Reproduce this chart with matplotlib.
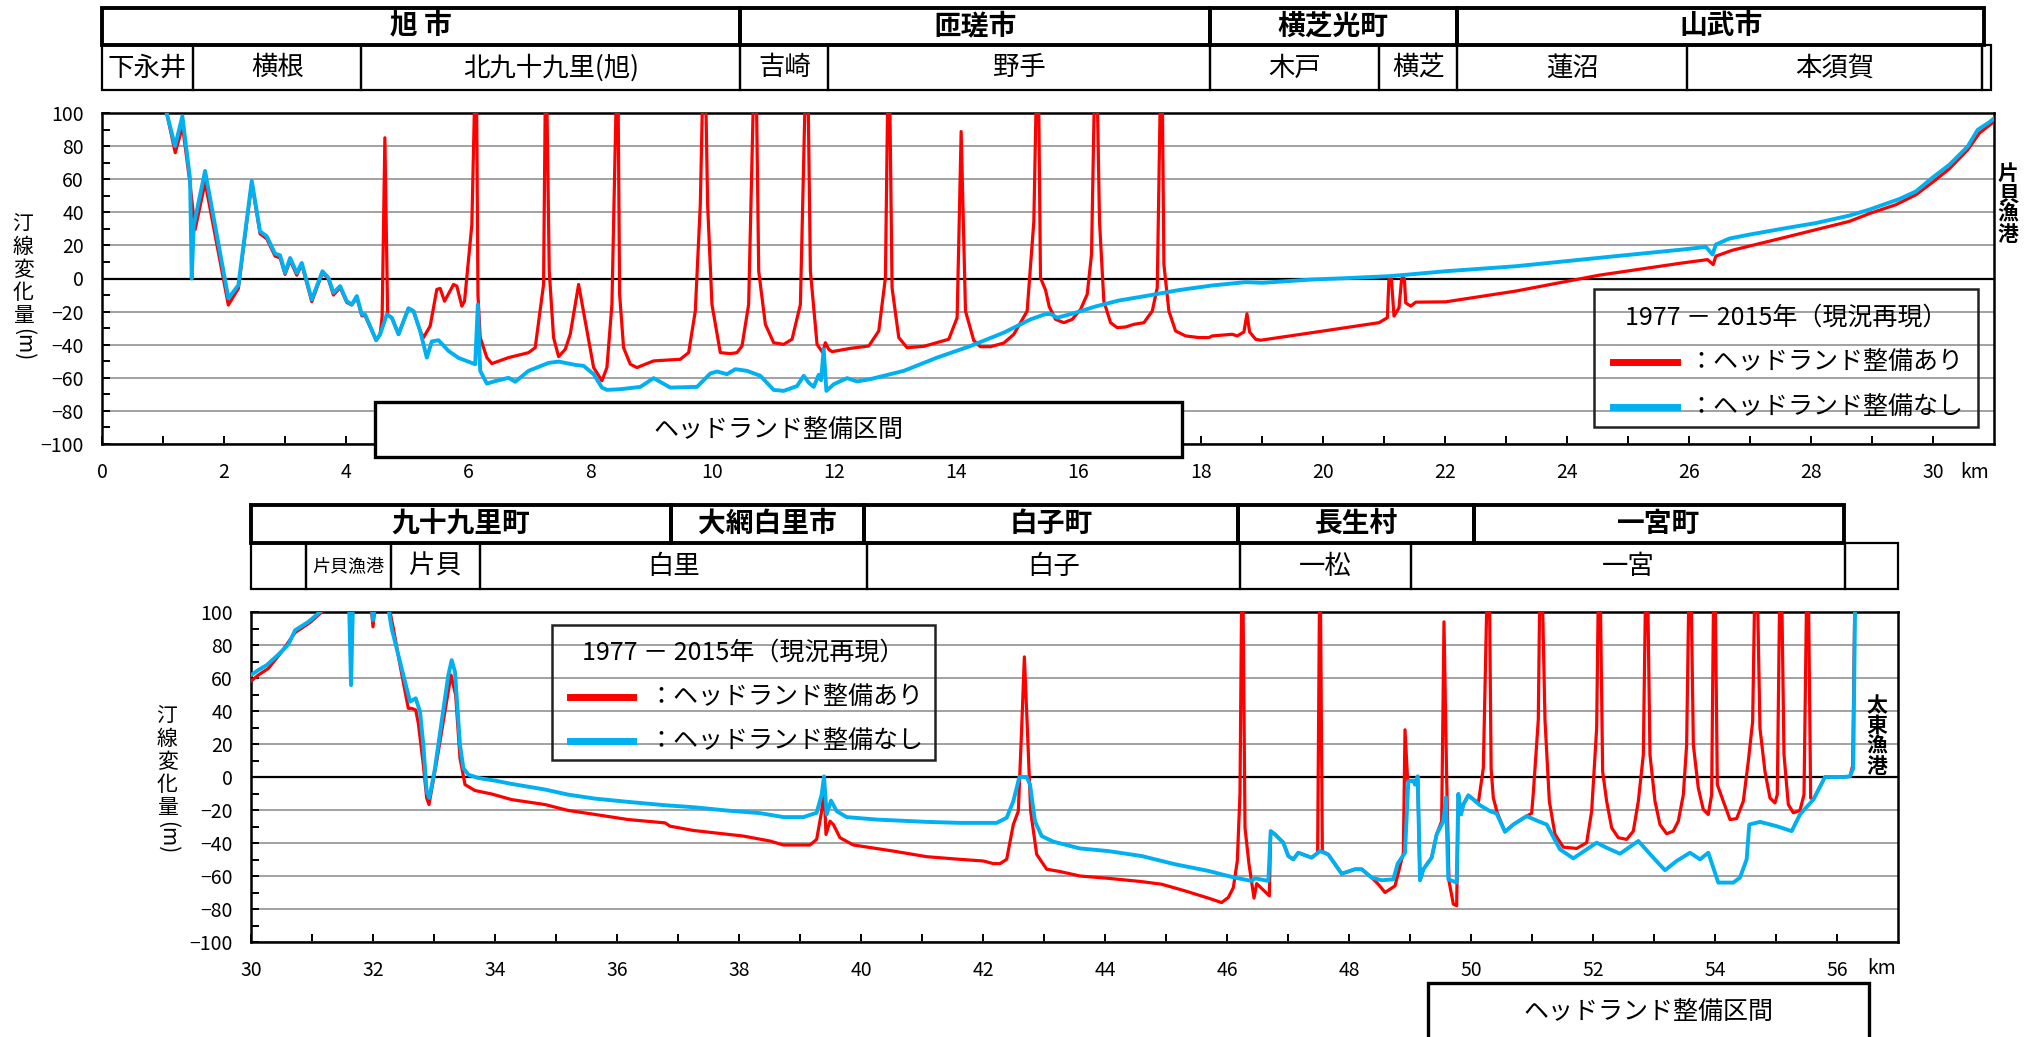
import matplotlib
matplotlib.use("Agg")
import matplotlib.pyplot as plt
from matplotlib.patches import Rectangle
from matplotlib.lines import Line2D

plt.rcParams['font.family'] = ['Noto Sans CJK JP', 'DejaVu Sans']

W, H = 2035, 1037
RED = '#ff0000'
BLUE = '#00b0f0'

# ---------------- data: 0 - 31 km ----------------
top_with_km = [1.00, 1.06, 1.20, 1.32, 1.44, 1.525, 1.69, 2.07, 2.235, 2.454, 2.59, 2.70, 2.836, 2.918, 3.00,
               3.082, 3.191, 3.273, 3.437, 3.612, 3.71, 3.792, 3.902, 4.011, 4.093, 4.175, 4.257, 4.311, 4.492,
               4.557, 4.59, 4.635, 4.68, 4.749, 4.858, 5.022, 5.104, 5.213, 5.268, 5.377, 5.486, 5.541, 5.612,
               5.76, 5.814, 5.896, 5.94, 6.06, 6.13, 6.16, 6.197, 6.306, 6.388, 6.661, 6.989, 7.098, 7.235,
               7.273, 7.328, 7.399, 7.481, 7.59, 7.672, 7.809, 7.918, 8.055, 8.191, 8.273, 8.355, 8.448, 8.481,
               8.546, 8.656, 8.765, 9.038, 9.475, 9.612, 9.721, 9.803, 9.869, 9.923, 9.994, 10.131, 10.295,
               10.404, 10.486, 10.595, 10.705, 10.76, 10.869, 11.005, 11.169, 11.306, 11.443, 11.552, 11.607,
               11.716, 11.809, 11.852, 11.907, 11.962, 12.262, 12.563, 12.727, 12.836, 12.891, 12.945, 13.055,
               13.191, 13.464, 13.874, 14.011, 14.077, 14.148, 14.284, 14.393, 14.557, 14.776, 14.94, 15.158,
               15.268, 15.333, 15.377, 15.46, 15.52, 15.623, 15.76, 15.896, 16.033, 16.142, 16.213, 16.284,
               16.344, 16.415, 16.525, 16.634, 16.77, 16.907, 17.071, 17.208, 17.29, 17.361, 17.399, 17.481,
               17.59, 17.754, 17.973, 18.137, 18.191, 18.519, 18.601, 18.71, 18.76, 18.803, 18.902, 18.984,
               19.831, 20.923, 21.06, 21.087, 21.126, 21.169, 21.251, 21.295, 21.339, 21.361, 21.443, 21.525,
               22.017, 23.164, 24.53, 25.896, 26.306, 26.399, 26.443, 26.716, 27.536, 28.628, 28.956, 29.393,
               29.721, 29.995, 30.268, 30.568, 30.76, 31.0]
top_with_dy = [130, 100, 76, 92, 58, 29.5, 58, -16, -6, 58, 27, 24, 13.5, 12.5, 2.5,
               11, 2, 8.5, -14, 3.5, -0.5, -10, -5.5, -14.5, -16, -11.5, -22.5, -22.5, -37.3,
               -33.7, -23, 85, -22, -23.7, -33.7, -18, -19.7, -31.7, -35.7, -28.7, -6.6, -6, -13.7,
               -3.6, -4.6, -16.7, -13.7, 32.5, 150, -10, -35.7, -47.8, -51.4, -47.8, -44.8, -41.8, -3.6,
               150, 4.4, -35.7, -47.2, -42.8, -33.7, -3.6, -25.7, -53.8, -61.8, -53.8, -15.7, 150, -9.6,
               -41.8, -51.8, -53.8, -49.8, -48.8, -44.8, -19.7, 44.6, 160, 44.6, -15.7, -44.8, -45.4,
               -44.8, -40.8, -15.7, 160, 4.4, -27.7, -38.8, -39.8, -36.7, -15.7, 160, 4.4,
               -39.8, -44.8, -38.8, -42.8, -44.2, -42.2, -40.8, -31.7, 0.4, 160, -5.6, -35.7,
               -41.8, -41, -36.7, -23.7, 88.8, -19.7, -37.5, -41.2, -41.2, -39, -33.7, -19.7,
               34.5, 160, 0.4, -7, -17, -24.7, -26.7, -24.7, -18.7, -9.6, 14.5, 160,
               34.5, -13.7, -26.7, -29.7, -29.3, -27.7, -26.7, -19.7, -5.6, 160, 8.4, -19.7,
               -31.7, -34.7, -35.7, -35.7, -34.7, -33.7, -34.7, -32.3, -21.3, -32.3, -36.7, -37.3,
               -32.7, -26.7, -23.7, 0, 0, -22.7, -17.7, 0, 0, -14.7, -16.7, -14.3,
               -14.1, -7.6, 2, 9.4, 11.4, 8.4, 13.5, 17.1, 24.5, 34.5, 39.2, 44.6,
               50.6, 58.2, 66.3, 77.7, 87.8, 94.8]

top_without_km = [1.00, 1.06, 1.197, 1.317, 1.443, 1.47, 1.503, 1.689, 2.071, 2.235, 2.454, 2.59, 2.699, 2.836,
                  2.918, 3.0, 3.082, 3.191, 3.273, 3.437, 3.612, 3.71, 3.792, 3.902, 4.011, 4.093, 4.175, 4.257,
                  4.311, 4.492, 4.557, 4.667, 4.749, 4.858, 5.022, 5.104, 5.213, 5.322, 5.404, 5.514, 5.678,
                  5.842, 6.115, 6.158, 6.197, 6.306, 6.443, 6.661, 6.77, 6.989, 7.317, 7.481, 7.754, 7.891,
                  8.055, 8.191, 8.273, 8.492, 8.82, 9.038, 9.311, 9.749, 9.967, 10.076, 10.24, 10.377, 10.568,
                  10.787, 11.005, 11.169, 11.388, 11.497, 11.579, 11.661, 11.743, 11.781, 11.825, 11.869,
                  11.989, 12.208, 12.372, 12.59, 13.137, 13.683, 14.23, 14.776, 15.213, 15.46, 15.55, 15.65,
                  15.951, 16.279, 16.661, 17.098, 17.645, 18.191, 18.738, 19.011, 19.831, 20.377, 21.087,
                  21.35, 22.017, 23.164, 24.803, 25.896, 26.279, 26.388, 26.443, 26.661, 26.989, 27.536,
                  28.082, 28.628, 28.956, 29.448, 29.721, 29.995, 30.268, 30.568, 30.732, 30.923, 31.0]
top_without_dy = [130, 100, 80, 98, 60, 0, 32, 65, -12, -4, 59, 28.5, 25.5, 15,
                  14, 3.4, 12.4, 3.4, 9.4, -12.7, 4.4, 0.4, -8.6, -4.6, -13.7, -15.7, -10.6, -21.7,
                  -21.7, -37.3, -33.7, -21.7, -23.7, -33.7, -18, -19.7, -31.7, -47.8, -38, -37.3, -43.8,
                  -48, -51.8, -15.7, -55.8, -63.5, -62, -60, -62.4, -55.8, -51, -50.2, -52.2, -52.8,
                  -57.8, -65.9, -67.3, -66.9, -65.5, -60.2, -65.9, -65.5, -57.4, -56.2, -57.8, -54.8, -55.8,
                  -58.8, -67.3, -67.9, -65, -58.8, -62.9, -65.5, -58.2, -61.5, -42.8, -67.9,
                  -63.9, -60.2, -62.2, -60.8, -55.8, -47.8, -40.8, -32.7, -24.7, -21.5, -21.5, -23.7,
                  -20.7, -16.9, -13.3, -10.6, -7, -4.2, -2.2, -2.6, -0.6, 0.2, 1.4,
                  2.2, 4.4, 7.4, 13.5, 17.5, 19.1, 14.5, 20.5, 24.1, 26.5, 30.1,
                  33.5, 38, 41.6, 48, 52.6, 61, 68.7, 79.7, 89.8, 94.4, 96.8]

# ---------------- data: 30 - 57 km ----------------
low_with_km = [30.0, 30.12, 30.285, 30.503, 30.722, 30.967, 31.16, 31.4, 31.95, 32.0, 32.05, 32.2, 32.28, 32.334,
               32.443, 32.579, 32.634, 32.70, 32.743, 32.825, 32.88, 32.918, 33.044, 33.153, 33.279, 33.355,
               33.426, 33.508, 33.672, 33.945, 34.273, 34.82, 35.202, 35.639, 36.186, 36.787, 36.869, 37.251,
               38.071, 38.508, 38.727, 39.164, 39.273, 39.355, 39.394, 39.426, 39.492, 39.547, 39.656, 39.874,
               40.53, 41.077, 41.623, 42.005, 42.169, 42.279, 42.388, 42.497, 42.579, 42.634, 42.678, 42.727,
               42.781, 42.88, 43.044, 43.262, 43.59, 44.054, 44.601, 44.929, 45.311, 45.694, 45.912, 46.022,
               46.104, 46.169, 46.213, 46.251, 46.295, 46.361, 46.443, 46.486, 46.694, 46.716, 46.787, 46.923,
               47.005, 47.087, 47.169, 47.388, 47.486, 47.524, 47.563, 47.661, 47.88, 48.098, 48.208, 48.372,
               48.481, 48.59, 48.754, 48.891, 48.918, 48.962, 49.055, 49.082, 49.126, 49.164, 49.219, 49.355,
               49.437, 49.519, 49.557, 49.601, 49.639, 49.71, 49.765, 49.792, 49.836, 49.874, 49.956, 50.12,
               50.202, 50.29, 50.33, 50.366, 50.431, 50.557, 50.694, 50.912, 50.994, 51.021, 51.103, 51.142,
               51.213, 51.284, 51.377, 51.513, 51.732, 51.896, 51.978, 52.06, 52.103, 52.158, 52.224, 52.306,
               52.415, 52.552, 52.661, 52.743, 52.825, 52.879, 52.934, 53.016, 53.098, 53.207, 53.316, 53.398,
               53.481, 53.535, 53.59, 53.645, 53.726, 53.808, 53.89, 53.945, 53.989, 54.038, 54.136, 54.246,
               54.355, 54.464, 54.546, 54.617, 54.672, 54.737, 54.819, 54.901, 54.983, 55.021, 55.076, 55.131,
               55.202, 55.284, 55.393, 55.459, 55.519, 55.568, 55.612, 55.803, 56.103, 56.213, 56.257, 56.29,
               56.31]
low_with_dy = [58.1, 61.8, 65.8, 75.9, 87.5, 93.6, 100, 118, 112, 91, 110, 108, 100, 90,
               67.8, 41.6, 41.6, 40.6, 32.6, 7.4, -12.7, -16.7, 9.5, 33.6, 61.8, 49.7,
               11.5, -4.6, -8.2, -10.3, -13.7, -16.7, -20.3, -22.7, -25.8, -27.8, -29.8, -32.4,
               -35.8, -38.8, -41.2, -41.2, -37.8, -20.7, -6.6, -34.8, -26.8, -28.8, -36.8, -41.2,
               -44.9, -48.3, -49.9, -50.9, -52.5, -52.5, -49.9, -28.8, -20.7, 29.6, 72.8, 29.6,
               -20.7, -46.9, -55.9, -57.3, -60, -61.4, -63.4, -65, -69, -73.4, -76.1, -73,
               -67, -50.9, -10, 160, -30.8, -52.9, -73.4, -64.6, -72, -32.8, -34.8, -39.8,
               -47.9, -49.9, -45.9, -48.9, -46, 150, -45, -47, -58.6, -55.9, -55.9, -61,
               -65, -70, -66, -46, 28.6, -2.6, -2.2, -4.6, 0.4, -62.6, -55.9, -48.9,
               -34.8, -26.8, 94, -0.6, -63, -77, -78, -10.3, -22.7, -16.7, -11.1, -15.7,
               5.4, 160, 5, -12.7, -21.7, -33.2, -28.8, -23.7, -22, -10, 34.5, 160,
               34.5, -14.7, -34.8, -42.5, -43.3, -39.8, -20.7, 29.6, 160, 3.4, -14.7, -30.8,
               -36.8, -37.8, -32.8, -14.7, 13.5, 160, 13.5, -14.7, -28.8, -34.4, -32.8, -26.8,
               -10.7, 19.5, 160, 19.5, -6.6, -19.7, -22.7, -10.7, 160, -4.6, -14.7, -25.8,
               -25.2, -14.7, 9.5, 33.6, 160, 29.6, 3.4, -12.7, -15.7, -10.7, 160, 13.5,
               -16.7, -21.7, -20.3, -10.7, 160, -12.7, -13.7, 0, 0, 0.4, 7, 100,
               130]

low_without_km = [30.0, 30.12, 30.257, 30.448, 30.612, 30.722, 30.94, 31.131, 31.4, 31.60, 31.64, 31.68, 31.95,
                  32.0, 32.05, 32.2, 32.263, 32.306, 32.415, 32.525, 32.607, 32.70, 32.771, 32.825, 32.88,
                  32.924, 33.016, 33.126, 33.235, 33.29, 33.344, 33.426, 33.481, 33.563, 33.727, 34.0, 34.273,
                  34.82, 35.202, 35.639, 36.186, 36.787, 37.251, 37.798, 38.344, 38.727, 39.055, 39.273,
                  39.355, 39.394, 39.437, 39.508, 39.601, 39.765, 40.257, 41.077, 41.623, 42.224, 42.388,
                  42.497, 42.596, 42.716, 42.771, 42.852, 42.962, 43.153, 43.59, 44.054, 44.601, 45.148,
                  45.694, 45.912, 46.131, 46.404, 46.459, 46.678, 46.716, 46.787, 46.923, 47.005, 47.087,
                  47.169, 47.388, 47.524, 47.661, 47.88, 48.098, 48.208, 48.372, 48.535, 48.727, 48.798,
                  48.918, 48.972, 49.055, 49.082, 49.126, 49.164, 49.219, 49.355, 49.437, 49.546, 49.59,
                  49.628, 49.765, 49.792, 49.836, 49.874, 49.956, 50.147, 50.311, 50.42, 50.557, 50.694,
                  50.912, 51.103, 51.24, 51.459, 51.677, 52.06, 52.224, 52.442, 52.743, 52.989, 53.18,
                  53.371, 53.59, 53.754, 53.89, 54.054, 54.3, 54.409, 54.519, 54.562, 54.737, 55.01, 55.257,
                  55.393, 55.612, 55.803, 56.103, 56.213, 56.267, 56.295, 56.31]
low_without_dy = [61.8, 64.8, 67.8, 74.2, 80.3, 88.9, 94, 100, 120, 118, 55.7, 118, 115,
                  95, 113, 110, 100, 90, 73.8, 57.7, 45.7, 47.7, 39.6, 19.5, -8.7,
                  -12.7, 5.4, 33.6, 61.8, 70.8, 63.8, 19.5, 5.4, 1.4, -0.6, -2.2, -4.2,
                  -7.6, -10.7, -13.1, -15.1, -17.1, -18.3, -20.3, -21.9, -24.3, -24.3, -21.7,
                  -10.7, 0.4, -22.7, -14.3, -20.7, -24.3, -25.8, -27.2, -27.8, -27.8, -24.7,
                  -14.7, 0, 0, -4.6, -26.8, -35.8, -39.2, -43.3, -44.9, -47.9, -52.9,
                  -56.9, -59, -61, -63, -61.4, -63, -32.8, -34.8, -39.8, -47.9, -49.9,
                  -45.9, -48.9, -44.9, -47, -58.6, -55.9, -55.9, -61, -62.6, -62, -52.5,
                  -45.9, -2.6, -2.2, -4.6, 0.4, -62.6, -55.9, -48.9, -34.8, -26.8, -12.3,
                  -62, -64, -10.3, -22.7, -16.7, -11.1, -17.1, -20.7, -22.1, -33.2, -28.8,
                  -23.7, -26.8, -28.8, -43.9, -49.3, -39.8, -42.9, -46.5, -38.8, -48.9, -56.5,
                  -50.9, -45.9, -49.9, -45.9, -64, -64, -61, -49.9, -28.8, -27.2, -29.8, -32.8,
                  -22.7, -13.7, 0, 0, 0.4, 5.4, 100, 130]

# ---------------- header tables ----------------
top_city_edges = [0, 10.46, 18.15, 22.2, 30.84]
top_cities = ['旭 市', '匝瑳市', '横芝光町', '山武市']
top_area_edges = [0, 1.49, 4.25, 10.46, 11.9, 18.15, 20.93, 22.2, 25.97, 30.8, 30.95]
top_areas = ['下永井', '横根', '北九十九里(旭)', '吉崎', '野手', '木戸', '横芝', '蓮沼', '本須賀', '']

low_city_edges = [30.0, 36.89, 40.05, 46.18, 50.05, 56.11]
low_cities = ['九十九里町', '大網白里市', '白子町', '長生村', '一宮町']
low_area_edges = [30.0, 30.9, 32.3, 33.75, 40.1, 46.21, 49.02, 56.13, 57.0]
low_areas = ['', '片貝漁港', '片貝', '白里', '白子', '一松', '一宮', '']

legend_title = '1977 － 2015年（現況再現）'
label_with = '：ヘッドランド整備あり'
label_without = '：ヘッドランド整備なし'


def frac(l, t, r, b):
    return [l / W, 1 - b / H, (r - l) / W, (b - t) / H]


fig = plt.figure(figsize=(W / 100, H / 100), dpi=100)


def style(ax, x0, x1):
    ax.set_xlim(x0, x1)
    ax.set_ylim(-100, 100)
    ax.set_yticks(range(-100, 101, 20))
    ax.set_yticks(range(-100, 101, 10), minor=True)
    ax.set_xticks(range(x0, x1, 2))
    ax.set_xticks(range(x0 + 1, x1, 2), minor=True)
    ax.grid(axis='y', which='major', color='#9a9a9a', lw=1.3)
    ax.axhline(0, color='black', lw=1.6, zorder=1.5)
    ax.tick_params(which='both', direction='in', length=6, width=1.4, labelsize=14, pad=13)
    for s in ax.spines.values():
        s.set_linewidth(1.8)
    ax.set_axisbelow(True)


def header(rect, x0, x1, c_edges, cities, a_edges, areas):
    hx = fig.add_axes(rect)
    hx.set_xlim(x0, x1)
    hx.set_ylim(0, 1)
    hx.axis('off')
    for a, b, name in zip(a_edges[:-1], a_edges[1:], areas):
        hx.add_patch(Rectangle((a, 0), b - a, 0.55, fill=False, ec='black', lw=1.6, clip_on=False))
        fs = 13 if len(name) == 4 and name.endswith('港') else 19
        hx.text((a + b) / 2, 0.27, name, ha='center', va='center', fontsize=fs)
    for a, b, name in zip(c_edges[:-1], c_edges[1:], cities):
        hx.add_patch(Rectangle((a, 0.55), b - a, 0.45, fill=False, ec='black', lw=2.8, clip_on=False))
        hx.text((a + b) / 2, 0.775, name, ha='center', va='center', fontsize=20, fontweight='bold')


def legend_box(l, t, r, b, ty, ry, by, s0, s1, tx):
    fig.add_artist(Rectangle((l / W, 1 - b / H), (r - l) / W, (b - t) / H, fill=False, ec='#222222',
                             lw=1.8, transform=fig.transFigure, zorder=5))
    fig.text((l + r) / 2 / W, 1 - ty / H, legend_title, ha='center', va='center', fontsize=18, zorder=6)
    fig.add_artist(Line2D([s0 / W, s1 / W], [1 - ry / H] * 2, color=RED, lw=5, transform=fig.transFigure, zorder=6))
    fig.add_artist(Line2D([s0 / W, s1 / W], [1 - by / H] * 2, color=BLUE, lw=5, transform=fig.transFigure, zorder=6))
    fig.text(tx / W, 1 - ry / H, label_with, ha='left', va='center', fontsize=18, zorder=6)
    fig.text(tx / W, 1 - by / H, label_without, ha='left', va='center', fontsize=18, zorder=6)


def section_box(l, t, r, b, cx, cy):
    fig.add_artist(Rectangle((l / W, 1 - b / H), (r - l) / W, (b - t) / H, fc='white', ec='black',
                             lw=2.4, transform=fig.transFigure, zorder=7))
    fig.text(cx / W, 1 - cy / H, 'ヘッドランド整備区間', ha='center', va='center', fontsize=18, zorder=8)


def ylabel(x, y0, step, my):
    # vertical Japanese label: stacked characters, unit turned sideways
    for i, ch in enumerate('汀線変化量'):
        fig.text(x / W, 1 - (y0 + i * step) / H, ch, ha='center', va='center', fontsize=15)
    fig.text(x / W, 1 - my / H, '(m)', ha='center', va='center', fontsize=15, rotation=270)


# top section
ax1 = fig.add_axes(frac(102, 113, 1994, 444))
style(ax1, 0, 31)
ax1.plot(top_with_km, top_with_dy, color=RED, lw=2.3, zorder=3)
ax1.plot(top_without_km, top_without_dy, color=BLUE, lw=2.8, zorder=4)
header(frac(102, 8, 1994, 90), 0, 31, top_city_edges, top_cities, top_area_edges, top_areas)
fig.text(1975 / W, 1 - 472 / H, 'km', ha='center', va='center', fontsize=14)
fig.text(2008 / W, 1 - 204 / H, '片\n貝\n漁\n港', ha='center', va='center', fontsize=15,
         fontweight='bold', linespacing=0.95)
ylabel(23, 224, 23, 345)
legend_box(1594, 289, 1978, 427, 318, 362, 407, 1613, 1677, 1688)
section_box(375, 402, 1182, 457, 778, 430)

# lower section
ax2 = fig.add_axes(frac(251, 612, 1898, 942))
style(ax2, 30, 57)
ax2.plot(low_with_km, low_with_dy, color=RED, lw=2.3, zorder=3)
ax2.plot(low_without_km, low_without_dy, color=BLUE, lw=2.8, zorder=4)
header(frac(251, 505, 1898, 589), 30, 57, low_city_edges, low_cities, low_area_edges, low_areas)
fig.text(1882 / W, 1 - 968 / H, 'km', ha='center', va='center', fontsize=14)
fig.text(1877 / W, 1 - 736 / H, '太\n東\n漁\n港', ha='center', va='center', fontsize=15,
         fontweight='bold', linespacing=0.95)
ylabel(167, 716, 23, 838)
legend_box(552, 625, 935, 760, 653, 697, 741, 570, 633, 648)
section_box(1428, 983, 1869, 1060, 1648, 1012)

fig.savefig('out.png', dpi=100)
